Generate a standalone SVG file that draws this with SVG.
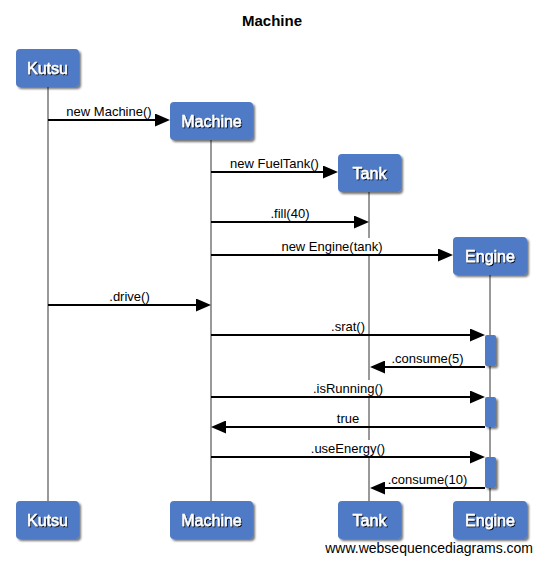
<svg xmlns="http://www.w3.org/2000/svg" width="542" height="564" viewBox="0 0 542 564">
<style>
  .box { fill: #4f7ac6; }
  .act { fill: #4f7ac6; }
  .life { stroke: #999; stroke-width: 2; fill: none; }
  .blbl { font-family: "Liberation Sans", Arial, sans-serif; font-size: 16px; fill: #fff; stroke: #fff; stroke-width: 0.45; text-anchor: middle; }
  .msg { stroke: #000; stroke-width: 2; fill: none; marker-end: url(#ah); }
  .mlbl { font-family: "Liberation Sans", Arial, sans-serif; font-size: 13px; fill: #000; text-anchor: middle; }
  .lbg { fill: #fff; }
  .title { font-family: "Liberation Sans", Arial, sans-serif; font-size: 15px; font-weight: bold; fill: #000; text-anchor: middle; }
  .wm { font-family: "Liberation Sans", Arial, sans-serif; font-size: 14px; fill: #000; text-anchor: end; }
</style>
<defs>
  <filter id="sh" x="-20%" y="-20%" width="150%" height="160%">
    <feGaussianBlur in="SourceAlpha" stdDeviation="1.2"/>
    <feOffset dx="2" dy="2" result="b"/>
    <feComponentTransfer><feFuncA type="linear" slope="0.55"/></feComponentTransfer>
    <feMerge><feMergeNode/><feMergeNode in="SourceGraphic"/></feMerge>
  </filter>
  <filter id="tsh" x="-10%" y="-20%" width="130%" height="150%">
    <feGaussianBlur in="SourceAlpha" stdDeviation="0.7"/>
    <feOffset dx="1" dy="1"/>
    <feComponentTransfer><feFuncA type="linear" slope="0.9"/></feComponentTransfer>
    <feMerge><feMergeNode/><feMergeNode in="SourceGraphic"/></feMerge>
  </filter>
  <marker id="ah" markerWidth="15" markerHeight="13" refX="7" refY="6.5" orient="auto" markerUnits="userSpaceOnUse">
    <path d="M0,0 L15,6.5 L0,13 z" fill="#000"/>
  </marker>
</defs>
<rect width="542" height="564" fill="#fff"/>
<text class="title" x="272" y="26">Machine</text>

<g id="node-kutsu">
  <line class="life" x1="48" y1="87" x2="48" y2="501"/>
  <rect class="box" x="16" y="49" width="63" height="38" rx="4" filter="url(#sh)"/>
  <text class="blbl" x="47.5" y="74" filter="url(#tsh)">Kutsu</text>
  <rect class="box" x="16" y="501" width="63" height="38" rx="4" filter="url(#sh)"/>
  <text class="blbl" x="47.5" y="526" filter="url(#tsh)">Kutsu</text>
</g>
<g id="node-machine">
  <line class="life" x1="211" y1="140" x2="211" y2="501"/>
  <rect class="box" x="170" y="102" width="83" height="38" rx="4" filter="url(#sh)"/>
  <text class="blbl" x="211.5" y="127" filter="url(#tsh)">Machine</text>
  <rect class="box" x="170" y="501" width="83" height="38" rx="4" filter="url(#sh)"/>
  <text class="blbl" x="211.5" y="526" filter="url(#tsh)">Machine</text>
</g>
<g id="node-tank">
  <line class="life" x1="369" y1="192" x2="369" y2="501"/>
  <rect class="box" x="338" y="154" width="63" height="38" rx="4" filter="url(#sh)"/>
  <text class="blbl" x="369.5" y="179" filter="url(#tsh)">Tank</text>
  <rect class="box" x="338" y="501" width="63" height="38" rx="4" filter="url(#sh)"/>
  <text class="blbl" x="369.5" y="526" filter="url(#tsh)">Tank</text>
</g>
<g id="node-engine">
  <line class="life" x1="490" y1="275" x2="490" y2="501"/>
  <rect class="box" x="453" y="237" width="74" height="38" rx="4" filter="url(#sh)"/>
  <text class="blbl" x="490" y="262" filter="url(#tsh)">Engine</text>
  <rect class="box" x="453" y="501" width="74" height="38" rx="4" filter="url(#sh)"/>
  <text class="blbl" x="490" y="526" filter="url(#tsh)">Engine</text>
  <rect class="act" x="485" y="335" width="11" height="31" rx="2" filter="url(#sh)"/>
  <rect class="act" x="485" y="397" width="11" height="30" rx="2" filter="url(#sh)"/>
  <rect class="act" x="485" y="457" width="11" height="31" rx="2" filter="url(#sh)"/>
</g>

<g id="connectors">
  <rect class="lbg" x="66" y="103" width="87" height="16"/>
  <line class="msg" x1="48" y1="120" x2="162" y2="120"/>
  <text class="mlbl" x="109" y="116">new Machine()</text>

  <rect class="lbg" x="228.5" y="155" width="92" height="16"/>
  <line class="msg" x1="211" y1="172" x2="330" y2="172"/>
  <text class="mlbl" x="274.5" y="168">new FuelTank()</text>

  <rect class="lbg" x="266" y="205" width="48" height="16"/>
  <line class="msg" x1="211" y1="222" x2="361" y2="222"/>
  <text class="mlbl" x="290" y="218">.fill(40)</text>

  <rect class="lbg" x="281" y="238" width="103" height="16"/>
  <line class="msg" x1="211" y1="255" x2="445" y2="255"/>
  <text class="mlbl" x="332" y="251">new Engine(tank)</text>

  <rect class="lbg" x="109" y="288" width="43" height="16"/>
  <line class="msg" x1="48" y1="305" x2="203" y2="305"/>
  <text class="mlbl" x="129.5" y="301">.drive()</text>

  <rect class="lbg" x="329.5" y="318" width="37" height="16"/>
  <line class="msg" x1="211" y1="335" x2="477" y2="335"/>
  <text class="mlbl" x="348" y="331">.srat()</text>

  <rect class="lbg" x="390.5" y="350" width="74" height="16"/>
  <line class="msg" x1="485" y1="367" x2="378" y2="367"/>
  <text class="mlbl" x="427.5" y="363">.consume(5)</text>

  <rect class="lbg" x="312" y="380" width="72" height="16"/>
  <line class="msg" x1="211" y1="397" x2="477" y2="397"/>
  <text class="mlbl" x="348" y="393">.isRunning()</text>

  <rect class="lbg" x="336" y="410" width="25" height="16"/>
  <line class="msg" x1="485" y1="427" x2="219" y2="427"/>
  <text class="mlbl" x="348" y="423">true</text>

  <rect class="lbg" x="310" y="440" width="76" height="16"/>
  <line class="msg" x1="211" y1="457" x2="477" y2="457"/>
  <text class="mlbl" x="348" y="453">.useEnergy()</text>

  <rect class="lbg" x="387" y="471" width="81" height="16"/>
  <line class="msg" x1="485" y1="488" x2="378" y2="488"/>
  <text class="mlbl" x="427.5" y="484">.consume(10)</text>
</g>

<text class="wm" x="533" y="553">www.websequencediagrams.com</text>
</svg>
